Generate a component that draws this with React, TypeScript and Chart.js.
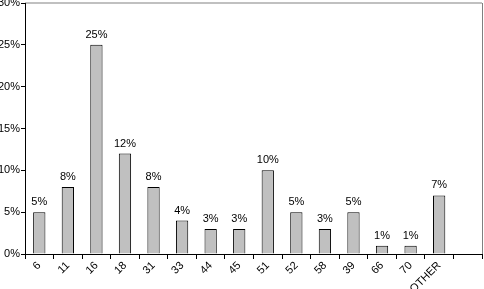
import React, { useEffect, useRef } from "react";
import { Chart, registerables } from "chart.js";

Chart.register(...registerables);

const categories = ["6", "11", "16", "18", "31", "33", "44", "45", "51", "52", "58", "39", "66", "70", "OTHER", ""];
const values: (number | null)[] = [5, 8, 25, 12, 8, 4, 3, 3, 10, 5, 3, 5, 1, 1, 7, null];
const yTicks = [0, 5, 10, 15, 20, 25, 30];

const FONT = "Liberation Sans, Arial, sans-serif";

const labelPlugin = {
  id: "barLabels",
  afterDatasetsDraw(chart: any) {
    const ctx = chart.ctx;
    const meta = chart.getDatasetMeta(0);
    ctx.save();
    ctx.font = `11px ${FONT}`;
    ctx.fillStyle = "#000";
    ctx.textAlign = "center";
    ctx.textBaseline = "alphabetic";
    meta.data.forEach((el: any, i: number) => {
      const v = values[i];
      if (v == null) return;
      ctx.fillText(`${v}%`, el.x, el.y - 7);
    });
    ctx.restore();
  },
  beforeDraw(chart: any) {
    const { ctx, chartArea } = chart;
    ctx.save();
    ctx.strokeStyle = "#c0c0c0";
    ctx.lineWidth = 2;
    ctx.beginPath();
    ctx.moveTo(chartArea.left, chartArea.top);
    ctx.lineTo(chartArea.right, chartArea.top);
    ctx.stroke();
    ctx.strokeStyle = "#808080";
    ctx.lineWidth = 1;
    ctx.beginPath();
    ctx.moveTo(chartArea.right + 0.5, chartArea.top);
    ctx.lineTo(chartArea.right + 0.5, chartArea.bottom);
    ctx.stroke();
    ctx.restore();
  },
};

export default function App() {
  const ref = useRef<HTMLCanvasElement>(null);
  useEffect(() => {
    document.body.style.margin = "0";
    const chart = new Chart(ref.current!, {
      type: "bar",
      data: {
        labels: categories,
        datasets: [
          {
            data: values,
            backgroundColor: "#c0c0c0",
            borderColor: "#000",
            borderWidth: 1,
            categoryPercentage: 1,
            barPercentage: 0.43,
          },
        ],
      },
      options: {
        animation: false,
        responsive: false,
        devicePixelRatio: 1,
        layout: { padding: { top: 3, right: 2, left: 0, bottom: 0 } },
        plugins: { legend: { display: false }, tooltip: { enabled: false } },
        scales: {
          x: {
            type: "category",
            offset: true,
            grid: {
              display: true,
              drawOnChartArea: false,
              offset: true,
              tickLength: 5,
              color: "#000",
            },
            border: { display: true, color: "#000" },
            ticks: {
              color: "#000",
              font: { family: FONT, size: 11 },
              maxRotation: 45,
              minRotation: 45,
              autoSkip: false,
              padding: 0,
            },
            afterFit(scale: any) {
              scale.height = 35;
              scale.paddingLeft = 0;
              scale.paddingRight = 0;
            },
          },
          y: {
            min: 0,
            max: 30,
            afterBuildTicks(scale: any) {
              scale.ticks = yTicks.map((v) => ({ value: v }));
            },
            grid: { display: true, drawOnChartArea: false, tickLength: 4, color: "#000" },
            border: { display: true, color: "#000" },
            ticks: {
              color: "#000",
              font: { family: FONT, size: 11 },
              padding: 1,
              callback: (v: any) => `${v}%`,
            },
            afterFit(scale: any) {
              scale.width = 25;
              scale.paddingTop = 0;
              scale.paddingBottom = 0;
            },
          },
        },
      },
      plugins: [labelPlugin],
    } as any);
    return () => chart.destroy();
  }, []);
  return <canvas ref={ref} width={484} height={289} style={{ display: "block" }} />;
}
